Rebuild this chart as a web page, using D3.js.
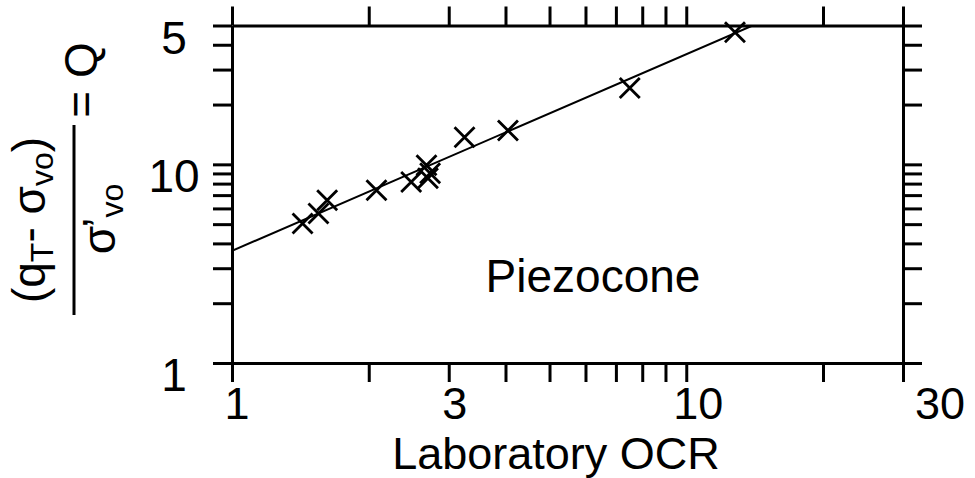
<!DOCTYPE html>
<html>
<head>
<meta charset="utf-8">
<script src="https://cdn.jsdelivr.net/npm/d3@7"></script>
<style>
  html, body { margin: 0; padding: 0; background: #fff; }
  svg { display: block; }
  text { font-family: "Liberation Sans", Arial, Helvetica, sans-serif; fill: #000; }
</style>
</head>
<body>
<svg id="chart" width="975" height="478"></svg>
<script>
// ---- data ----
const xTicks = [1, 2, 3, 4, 5, 6, 7, 8, 9, 10, 20, 30];
const yTicks = [1, 2, 3, 4, 5, 6, 7, 8, 9, 10, 20, 30, 40, 50];
const xLabelValues = [1, 3, 10, 30];
const xLabelTexts = ["1", "3", "10", "30"];
const yLabelValues = [1, 10, 50];
const yLabelTexts = ["1", "10", "5"];
const ocr = [1.43, 1.55, 1.62, 2.08, 2.48, 2.68, 2.73, 2.70, 3.25, 4.05, 7.51, 12.8];
const qValues = [5.04, 5.65, 6.59, 7.40, 8.15, 9.89, 9.01, 8.51, 13.7, 14.8, 24.2, 46.2];
const fitOcr = [1, 14.0];
const fitQ = [3.67, 50];
const xTitle = "Laboratory OCR";
const annotation = "Piezocone";

// ---- layout / style ----
const frame = { left: 232, right: 903, top: 25.5, bottom: 363 };
const tickLen = 19;
const axisW = 3;
const fontSize = 46;
const xFont = 45;
const xLabelDx = [5, 6, 12, 37];

const svg = d3.select("#chart");
const x = d3.scaleLog().domain([1, 30]).range([frame.left, frame.right]);
const y = d3.scaleLog().domain([1, 50]).range([frame.bottom, frame.top]);

// clip
svg.append("clipPath").attr("id", "plotclip").append("rect")
  .attr("x", frame.left).attr("y", frame.top)
  .attr("width", frame.right - frame.left).attr("height", frame.bottom - frame.top);

// regression line
const fitData = fitOcr.map((d, i) => [d, fitQ[i]]);
svg.append("path")
  .datum(fitData)
  .attr("clip-path", "url(#plotclip)")
  .attr("d", d3.line().x(d => x(d[0])).y(d => y(d[1])))
  .attr("fill", "none").attr("stroke", "#000").attr("stroke-width", 2);

// markers
const pts = ocr.map((d, i) => [d, qValues[i]]);
const h = 10;
svg.append("g").selectAll("path").data(pts).join("path")
  .attr("d", d => {
    const cx = x(d[0]), cy = y(d[1]);
    return `M${cx - h},${cy - h}L${cx + h},${cy + h}M${cx - h},${cy + h}L${cx + h},${cy - h}`;
  })
  .attr("stroke", "#000").attr("stroke-width", 2.8).attr("fill", "none");

// axes
function styleAxis(g) {
  g.selectAll("path.domain").attr("stroke", "#000").attr("stroke-width", axisW);
  g.selectAll(".tick line").attr("stroke", "#000").attr("stroke-width", axisW);
  g.selectAll(".tick text").remove();
}
svg.append("g").attr("transform", `translate(0,${frame.bottom})`)
  .call(d3.axisBottom(x).tickValues(xTicks).tickSizeInner(tickLen).tickSizeOuter(0).tickFormat(""))
  .call(styleAxis);
svg.append("g").attr("transform", `translate(0,${frame.top})`)
  .call(d3.axisTop(x).tickValues(xTicks).tickSizeInner(tickLen).tickSizeOuter(0).tickFormat(""))
  .call(styleAxis);
svg.append("g").attr("transform", `translate(${frame.left},0)`)
  .call(d3.axisLeft(y).tickValues(yTicks).tickSizeInner(tickLen).tickSizeOuter(0).tickFormat(""))
  .call(styleAxis);
svg.append("g").attr("transform", `translate(${frame.right},0)`)
  .call(d3.axisRight(y).tickValues(yTicks).tickSizeInner(tickLen).tickSizeOuter(0).tickFormat(""))
  .call(styleAxis);

// tick labels
svg.append("g").selectAll("text").data(xLabelValues).join("text")
  .attr("x", (d, i) => x(d) + xLabelDx[i])
  .attr("y", 419)
  .attr("text-anchor", "middle")
  .attr("font-size", xFont)
  .text((d, i) => xLabelTexts[i]);
svg.append("g").selectAll("text").data(yLabelValues).join("text")
  .attr("x", 174)
  .attr("y", d => y(d) + 28)
  .attr("text-anchor", "middle")
  .attr("font-size", fontSize)
  .text((d, i) => yLabelTexts[i]);

// x title
svg.append("text").attr("x", 556).attr("y", 469)
  .attr("text-anchor", "middle").attr("font-size", xFont).text(xTitle);

// annotation
svg.append("text").attr("x", 593).attr("y", 292)
  .attr("text-anchor", "middle").attr("font-size", fontSize).text(annotation);

// y title (rotated fraction)
const yt = svg.append("g").attr("transform", "rotate(-90)");
const sub = 32, shift = 8;
const num = yt.append("text").attr("x", -220).attr("y", 45)
  .attr("text-anchor", "middle").attr("font-size", fontSize);
num.append("tspan").text("(q");
num.append("tspan").attr("font-size", sub).attr("dy", shift).text("T");
num.append("tspan").attr("dy", -shift).text("- σ");
num.append("tspan").attr("font-size", sub).attr("dy", shift).text("vo");
num.append("tspan").attr("dy", -shift).text(")");

yt.append("line").attr("x1", -315).attr("x2", -125).attr("y1", 74).attr("y2", 74)
  .attr("stroke", "#000").attr("stroke-width", 3);

const den = yt.append("text").attr("x", -219).attr("y", 115)
  .attr("text-anchor", "middle").attr("font-size", fontSize);
den.append("tspan").text("σ");
den.append("tspan").attr("dx", -2).text("’");
den.append("tspan").attr("font-size", sub).attr("dy", shift).text("vo");

yt.append("text").attr("x", -80).attr("y", 97)
  .attr("text-anchor", "middle").attr("font-size", fontSize).text("= Q");
</script>
</body>
</html>
